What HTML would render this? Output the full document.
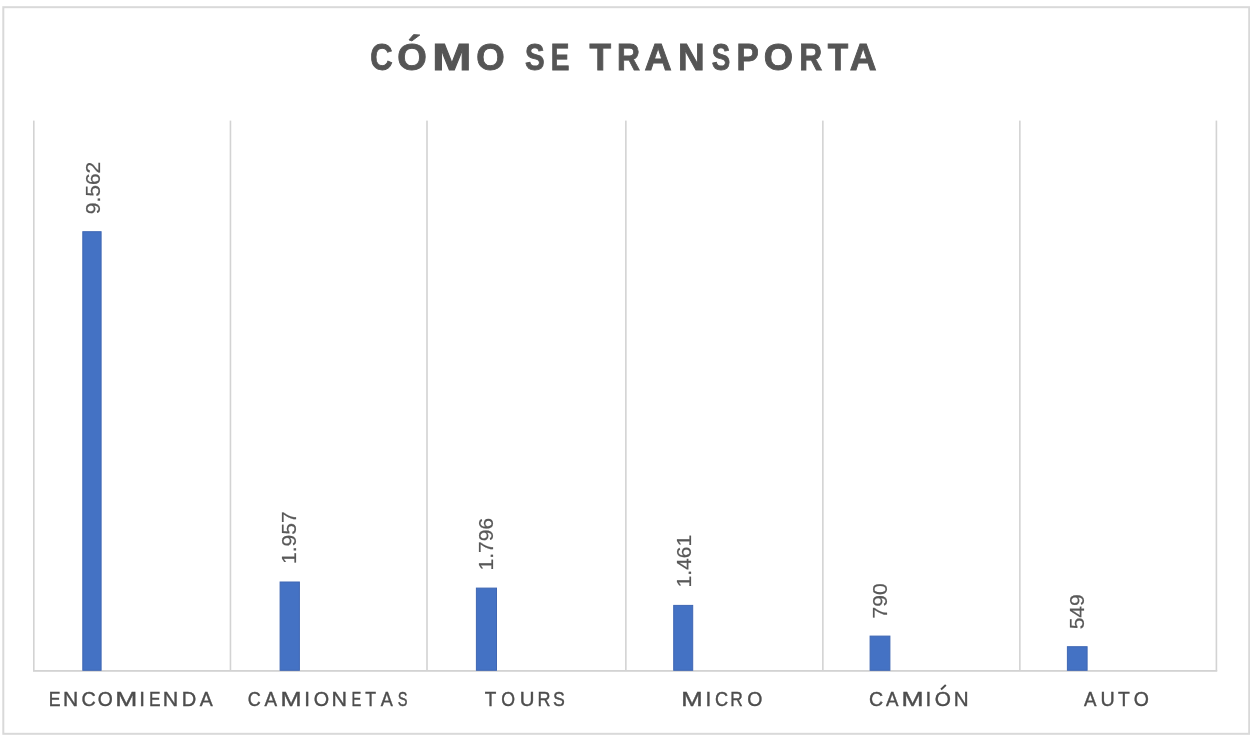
<!DOCTYPE html>
<html><head><meta charset="utf-8">
<style>
html,body{margin:0;padding:0;background:#fff;}
body{width:1250px;height:737px;overflow:hidden;}
svg{display:block;filter:blur(0.45px);}
</style></head><body>
<svg width="1250" height="737" viewBox="0 0 1250 737">
<rect x="0" y="0" width="1250" height="737" fill="#ffffff"/>
<rect x="3.3" y="7.2" width="1245.9" height="726.6" fill="none" stroke="#d9d9d9" stroke-width="2"/>
<rect x="33.00" y="120.6" width="1.6" height="550.5" fill="#d3d3d3"/><rect x="229.65" y="120.6" width="1.6" height="550.5" fill="#d3d3d3"/><rect x="426.20" y="120.6" width="1.6" height="550.5" fill="#d3d3d3"/><rect x="625.05" y="120.6" width="1.6" height="550.5" fill="#d3d3d3"/><rect x="822.05" y="120.6" width="1.6" height="550.5" fill="#d3d3d3"/><rect x="1019.05" y="120.6" width="1.6" height="550.5" fill="#d3d3d3"/><rect x="1215.60" y="120.6" width="1.6" height="550.5" fill="#d3d3d3"/><rect x="33.00" y="670.0" width="1184.20" height="1.8" fill="#d3d3d3"/>
<rect x="82.80" y="231.70" width="18.30" height="438.60" fill="#4472c4" stroke="#3f66b3" stroke-width="1"/><rect x="280.10" y="582.00" width="19.30" height="88.30" fill="#4472c4" stroke="#3f66b3" stroke-width="1"/><rect x="476.40" y="588.10" width="20.10" height="82.20" fill="#4472c4" stroke="#3f66b3" stroke-width="1"/><rect x="673.70" y="605.40" width="19.00" height="64.90" fill="#4472c4" stroke="#3f66b3" stroke-width="1"/><rect x="870.10" y="636.10" width="19.80" height="34.20" fill="#4472c4" stroke="#3f66b3" stroke-width="1"/><rect x="1067.40" y="646.70" width="19.70" height="23.60" fill="#4472c4" stroke="#3f66b3" stroke-width="1"/>
<g font-family="Liberation Sans" font-weight="bold" font-size="37.8" fill="#555555" stroke="#555555" stroke-width="0.9"><text transform="matrix(0.8214 0 0 1 370.13 70.4)" x="0" y="0">C</text><text transform="matrix(1.0052 0 0 1 397.24 70.4)" x="0" y="0">O</text><text transform="matrix(1.2448 0 0 1 432.15 70.4)" x="0" y="0">M</text><text transform="matrix(0.9671 0 0 1 476.30 70.4)" x="0" y="0">O</text><text transform="matrix(0.7772 0 0 1 524.95 70.4)" x="0" y="0">S</text><text transform="matrix(0.7403 0 0 1 550.73 70.4)" x="0" y="0">E</text><text transform="matrix(0.9344 0 0 1 589.40 70.4)" x="0" y="0">T</text><text transform="matrix(0.8419 0 0 1 617.07 70.4)" x="0" y="0">R</text><text transform="matrix(0.9976 0 0 1 644.46 70.4)" x="0" y="0">A</text><text transform="matrix(0.9765 0 0 1 677.93 70.4)" x="0" y="0">N</text><text transform="matrix(0.7330 0 0 1 711.80 70.4)" x="0" y="0">S</text><text transform="matrix(0.8835 0 0 1 736.47 70.4)" x="0" y="0">P</text><text transform="matrix(0.9975 0 0 1 763.75 70.4)" x="0" y="0">O</text><text transform="matrix(0.8419 0 0 1 799.27 70.4)" x="0" y="0">R</text><text transform="matrix(0.8850 0 0 1 827.72 70.4)" x="0" y="0">T</text><text transform="matrix(0.9819 0 0 1 849.78 70.4)" x="0" y="0">A</text><polygon points="409.0,39.9 413.6,34.6 419.8,35.0 411.9,40.9" fill="#555555"/></g>
<g font-family="Liberation Sans" font-size="21.0" fill="#585858" stroke="#585858" stroke-width="0.2"><text transform="translate(99.52 214.28) rotate(-90)">9.562</text><text transform="translate(295.67 563.90) rotate(-90)">1.957</text><text transform="translate(493.37 570.40) rotate(-90)">1.796</text><text transform="translate(690.77 587.40) rotate(-90)">1.461</text><text transform="translate(887.07 618.38) rotate(-90)">790</text><text transform="translate(1084.47 629.34) rotate(-90)">549</text></g>
<g font-family="Liberation Sans" font-size="20.6" fill="#4d4d4d" stroke="#4d4d4d" stroke-width="0.4"><text transform="matrix(0.8598 0 0 1 48.65 706.4)" x="0" y="0">E</text><text transform="matrix(1.0255 0 0 1 63.07 706.4)" x="0" y="0">N</text><text transform="matrix(0.9581 0 0 1 81.50 706.4)" x="0" y="0">C</text><text transform="matrix(0.9387 0 0 1 97.78 706.4)" x="0" y="0">O</text><text transform="matrix(1.2844 0 0 1 115.23 706.4)" x="0" y="0">M</text><text transform="matrix(1.0000 0 0 1 139.29 706.4)" x="0" y="0">I</text><text transform="matrix(0.8419 0 0 1 148.98 706.4)" x="0" y="0">E</text><text transform="matrix(1.0428 0 0 1 162.74 706.4)" x="0" y="0">N</text><text transform="matrix(0.9753 0 0 1 181.85 706.4)" x="0" y="0">D</text><text transform="matrix(0.9444 0 0 1 199.66 706.4)" x="0" y="0">A</text><text transform="matrix(0.8738 0 0 1 247.79 706.4)" x="0" y="0">C</text><text transform="matrix(0.9151 0 0 1 264.46 706.4)" x="0" y="0">A</text><text transform="matrix(1.2264 0 0 1 280.43 706.4)" x="0" y="0">M</text><text transform="matrix(1.0000 0 0 1 304.29 706.4)" x="0" y="0">I</text><text transform="matrix(0.9600 0 0 1 313.66 706.4)" x="0" y="0">O</text><text transform="matrix(1.0428 0 0 1 331.44 706.4)" x="0" y="0">N</text><text transform="matrix(0.7165 0 0 1 351.59 706.4)" x="0" y="0">E</text><text transform="matrix(0.8585 0 0 1 365.20 706.4)" x="0" y="0">T</text><text transform="matrix(0.8785 0 0 1 380.76 706.4)" x="0" y="0">A</text><text transform="matrix(0.7083 0 0 1 397.74 706.4)" x="0" y="0">S</text><text transform="matrix(0.9186 0 0 1 484.87 706.4)" x="0" y="0">T</text><text transform="matrix(0.8605 0 0 1 501.26 706.4)" x="0" y="0">O</text><text transform="matrix(0.9916 0 0 1 519.72 706.4)" x="0" y="0">U</text><text transform="matrix(0.8748 0 0 1 537.52 706.4)" x="0" y="0">R</text><text transform="matrix(0.8601 0 0 1 553.10 706.4)" x="0" y="0">S</text><text transform="matrix(1.2482 0 0 1 681.29 706.4)" x="0" y="0">M</text><text transform="matrix(1.0000 0 0 1 705.59 706.4)" x="0" y="0">I</text><text transform="matrix(0.8815 0 0 1 714.88 706.4)" x="0" y="0">C</text><text transform="matrix(0.8421 0 0 1 730.28 706.4)" x="0" y="0">R</text><text transform="matrix(0.9458 0 0 1 747.28 706.4)" x="0" y="0">O</text><text transform="matrix(0.9505 0 0 1 869.11 706.4)" x="0" y="0">C</text><text transform="matrix(0.9078 0 0 1 885.96 706.4)" x="0" y="0">A</text><text transform="matrix(1.2844 0 0 1 901.43 706.4)" x="0" y="0">M</text><text transform="matrix(1.0000 0 0 1 925.59 706.4)" x="0" y="0">I</text><text transform="matrix(1.0098 0 0 1 934.71 706.4)" x="0" y="0">O</text><text transform="matrix(0.9994 0 0 1 953.81 706.4)" x="0" y="0">N</text><text transform="matrix(0.9078 0 0 1 1083.96 706.4)" x="0" y="0">A</text><text transform="matrix(0.9574 0 0 1 1100.48 706.4)" x="0" y="0">U</text><text transform="matrix(0.9358 0 0 1 1118.07 706.4)" x="0" y="0">T</text><text transform="matrix(0.9458 0 0 1 1133.78 706.4)" x="0" y="0">O</text><line x1="941.0" y1="689.4" x2="945.8" y2="684.9" stroke-width="2.0"/></g>
</svg>
</body></html>
